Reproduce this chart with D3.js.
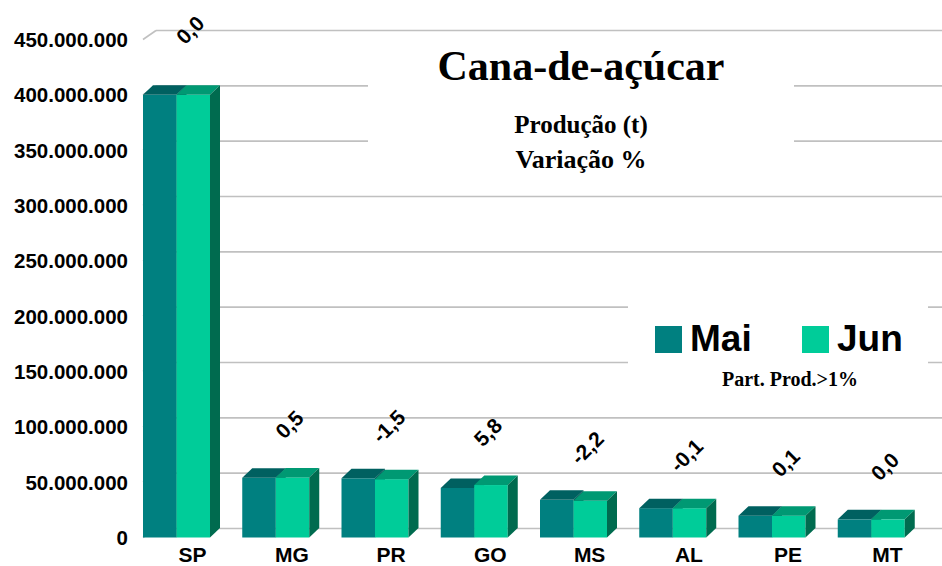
<!DOCTYPE html>
<html lang="pt">
<head>
<meta charset="UTF-8">
<title>Cana-de-açúcar</title>
<style>
    body { margin: 0; background: #fff; }
    svg text { font-family: "Liberation Sans", Arial, sans-serif; font-weight: bold; }
    svg text.serif { font-family: "Liberation Serif", "Times New Roman", serif; }
</style>
</head>
<body>
<div id="chart"></div>
<script src="https://d3js.org/d3.v7.min.js"></script>
<script>
    const width = 942;
    const height = 566;

    // data
    const categories = ["SP", "MG", "PR", "GO", "MS", "AL", "PE", "MT"];
    const mai = [400.0e6, 54.0e6, 53.5e6, 44.8e6, 34.0e6, 26.5e6, 19.7e6, 16.4e6];
    const jun = [400.0e6, 54.3e6, 52.7e6, 47.4e6, 33.25e6, 26.47e6, 19.72e6, 16.4e6];
    const variacao = ["0,0", "0,5", "-1,5", "5,8", "-2,2", "-0,1", "0,1", "0,0"];
    const yTicks = d3.range(0, 450e6 + 1, 50e6);

    const colors = {
        mai: { front: "#008080", top: "#006060", side: "#005656" },
        jun: { front: "#00cc99", top: "#009973", side: "#006b4f" }
    };

    // depth offsets of the 3d look
    const gdx = 13, gdy = -9;   // back wall
    const bdx = 10, bdy = -9.5; // bars

    const svg = d3.select("#chart").append("svg")
        .attr("width", width)
        .attr("height", height);

    const x = d3.scaleBand().domain(categories).range([143, 937]);
    const y = d3.scaleLinear().domain([0, 450e6]).range([537.5, 39.5]);
    const barW = 33.5;

    const fmt = v => d3.format(",")(v).replace(/,/g, ".");

    // gridlines on the back wall + left diagonal
    const grid = svg.append("g").attr("stroke", "#c0c0c0").attr("stroke-width", 1.6);
    yTicks.forEach(t => {
        grid.append("line")
            .attr("x1", x.range()[0]).attr("y1", y(t))
            .attr("x2", x.range()[0] + gdx).attr("y2", y(t) + gdy);
        grid.append("line")
            .attr("x1", x.range()[0] + gdx).attr("y1", y(t) + gdy)
            .attr("x2", width).attr("y2", y(t) + gdy);
    });

    // y labels
    svg.append("g").selectAll("text")
        .data(yTicks)
        .enter().append("text")
        .attr("x", 128)
        .attr("y", d => y(d))
        .attr("dy", "0.36em")
        .attr("text-anchor", "end")
        .attr("font-size", 20.5)
        .text(d => fmt(d));

    // title box (covers gridlines)
    svg.append("rect").attr("x", 368).attr("y", 32).attr("width", 426).attr("height", 158).attr("fill", "#fff");
    svg.append("text").attr("class", "serif").attr("x", 581).attr("y", 80)
        .attr("text-anchor", "middle").attr("font-size", 42).text("Cana-de-açúcar");
    svg.append("text").attr("class", "serif").attr("x", 581).attr("y", 133)
        .attr("text-anchor", "middle").attr("font-size", 25).text("Produção (t)");
    svg.append("text").attr("class", "serif").attr("x", 581).attr("y", 168)
        .attr("text-anchor", "middle").attr("font-size", 26).text("Variação %");

    // legend box
    svg.append("rect").attr("x", 628).attr("y", 300).attr("width", 300).attr("height", 95).attr("fill", "#fff");
    const legend = [
        { name: "Mai", c: colors.mai.front, sx: 655, tx: 690 },
        { name: "Jun", c: colors.jun.front, sx: 802, tx: 837 }
    ];
    legend.forEach(l => {
        svg.append("rect").attr("x", l.sx).attr("y", 326).attr("width", 27).attr("height", 27).attr("fill", l.c);
        svg.append("text").attr("x", l.tx).attr("y", 351).attr("font-size", 37).text(l.name);
    });
    svg.append("text").attr("class", "serif").attr("x", 790).attr("y", 386)
        .attr("text-anchor", "middle").attr("font-size", 20).text("Part. Prod.>1%");

    // 3d bar helper
    function bar(g, x0, v, c) {
        const yt = y(v), yb = y(0);
        g.append("rect").attr("x", x0).attr("y", yt).attr("width", barW).attr("height", yb - yt).attr("fill", c.front);
        g.append("path").attr("fill", c.top)
            .attr("d", `M${x0},${yt}L${x0 + barW},${yt}L${x0 + barW + bdx},${yt + bdy}L${x0 + bdx},${yt + bdy}Z`);
        g.append("path").attr("fill", c.side)
            .attr("d", `M${x0 + barW},${yt}L${x0 + barW + bdx},${yt + bdy}L${x0 + barW + bdx},${yb + bdy}L${x0 + barW},${yb}Z`);
    }

    const bars = svg.append("g");
    categories.forEach((cat, i) => {
        const x0 = x(cat);
        bar(bars, x0, mai[i], colors.mai);
        bar(bars, x0 + barW, jun[i], colors.jun);
    });

    // variation labels; the tall SP one is pushed a bit higher like in excel
    const labelY = v => {
        const ly = y(v) - 53;
        return ly < 60 ? ly - 12 : ly;
    };
    svg.append("g").selectAll("text")
        .data(categories)
        .enter().append("text")
        .attr("transform", (d, i) => `translate(${x(d) + 47},${labelY(jun[i])}) rotate(-45)`)
        .attr("text-anchor", "middle")
        .attr("dy", "0.36em")
        .attr("font-size", 21)
        .text((d, i) => variacao[i]);

    // category labels
    svg.append("g").selectAll("text")
        .data(categories)
        .enter().append("text")
        .attr("x", d => x(d) + x.bandwidth() / 2)
        .attr("y", 562)
        .attr("text-anchor", "middle")
        .attr("font-size", 21)
        .text(d => d);
</script>
</body>
</html>
